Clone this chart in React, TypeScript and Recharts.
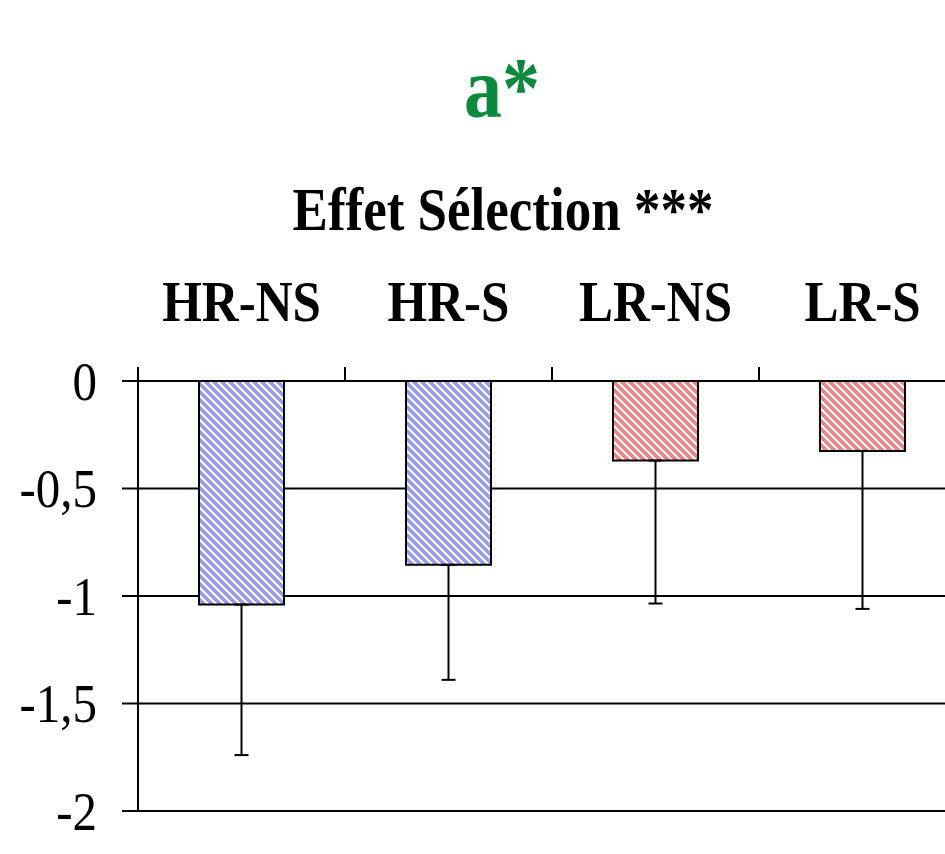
import React from "react";
import {
  Bar,
  BarChart,
  CartesianGrid,
  Cell,
  ErrorBar,
  XAxis,
  YAxis,
} from "recharts";

const groups = ["HR-NS", "HR-S", "LR-NS", "LR-S"];
const means = [-1.04, -0.855, -0.37, -0.325];
const errors = [0.7, 0.535, 0.665, 0.735];
const fills = ["blue", "blue", "red", "red"];
const yTicks = [0, -0.5, -1, -1.5, -2];

const SERIF = "'Liberation Serif', 'Times New Roman', serif";
const LABEL_GAP = 60;

const data = groups.map((g, i) => ({
  name: g,
  value: means[i],
  err: [errors[i], 0],
}));

// category label plus the small Excel-style mark on the left edge of its band
function CatTick(props: any) {
  const { x, y, payload, width, visibleTicksCount } = props;
  const half =
    payload.offset != null && payload.offset > 0
      ? payload.offset
      : width / visibleTicksCount / 2;
  const axisY = y + LABEL_GAP;
  return (
    <g>
      <line
        x1={x - half}
        x2={x - half}
        y1={axisY}
        y2={axisY - 14}
        stroke="#000"
        strokeWidth={2}
      />
      <text
        transform={`translate(${x},${y}) scale(1,1.1)`}
        textAnchor="middle"
        fontFamily={SERIF}
        fontWeight="bold"
        fontSize={51}
        fill="#000"
      >
        {payload.value}
      </text>
    </g>
  );
}

function ValueTick(props: any) {
  const { x, y, payload } = props;
  const label = String(payload.value).replace(".", ",");
  return (
    <text
      transform={`translate(${x},${y}) scale(1,1.1)`}
      textAnchor="end"
      dy="0.35em"
      fontFamily={SERIF}
      fontSize={49}
      fill="#000"
    >
      {label}
    </text>
  );
}

function Stripes({ id, color }: { id: string; color: string }) {
  return (
    <pattern id={id} width="8" height="8" patternUnits="userSpaceOnUse">
      <rect width="8" height="8" fill="#fff" />
      <g fill={color} shapeRendering="crispEdges">
        <polygon points="0,0 2.5,0 8,5.5 8,8 5.5,8 0,2.5" />
        <polygon points="5.5,0 8,0 8,2.5" />
        <polygon points="0,5.5 0,8 2.5,8" />
      </g>
    </pattern>
  );
}

export default function App() {
  return (
    <div
      style={{
        position: "fixed",
        left: 8,
        top: 8,
        right: 0,
        height: 840,
        overflow: "hidden",
      }}
    >
      <BarChart
        width={958}
        height={836}
        data={data}
        margin={{ top: 283, right: 0, bottom: 33, left: 0 }}
      >
        <defs>
          <Stripes id="blue" color="#9999ff" />
          <Stripes id="red" color="#ff8080" />
        </defs>
        <XAxis
          dataKey="name"
          orientation="top"
          height={90}
          axisLine={false}
          tickLine={false}
          tickSize={0}
          tickMargin={LABEL_GAP}
          tick={<CatTick />}
          interval={0}
        />
        <YAxis
          domain={[-2, 0]}
          ticks={yTicks}
          width={130}
          tickSize={16}
          tickMargin={25}
          tick={<ValueTick />}
          axisLine={{ stroke: "#000", strokeWidth: 2 }}
          tickLine={{ stroke: "#000", strokeWidth: 2 }}
          interval={0}
        />
        <CartesianGrid vertical={false} stroke="#000" strokeWidth={2} />
        <Bar
          dataKey="value"
          barSize={85}
          stroke="#000"
          strokeWidth={2}
          isAnimationActive={false}
        >
          {data.map((d, i) => (
            <Cell key={d.name} fill={`url(#${fills[i]})`} />
          ))}
          <ErrorBar
            dataKey="err"
            direction="y"
            width={7}
            stroke="#000"
            strokeWidth={2}
            isAnimationActive={false}
          />
        </Bar>
      </BarChart>
      <svg
        width={937}
        height={300}
        style={{ position: "absolute", left: 0, top: 0, pointerEvents: "none" }}
      >
        <text
          transform="translate(494,109) scale(1,1.15)"
          textAnchor="middle"
          fontFamily={SERIF}
          fontWeight="bold"
          fontSize={76}
          fill="#0a8a3c"
        >
          a*
        </text>
        <text
          transform="translate(495,222) scale(1,1.15)"
          textAnchor="middle"
          fontFamily={SERIF}
          fontWeight="bold"
          fontSize={53}
          fill="#000"
        >
          Effet Sélection ***
        </text>
      </svg>
    </div>
  );
}
